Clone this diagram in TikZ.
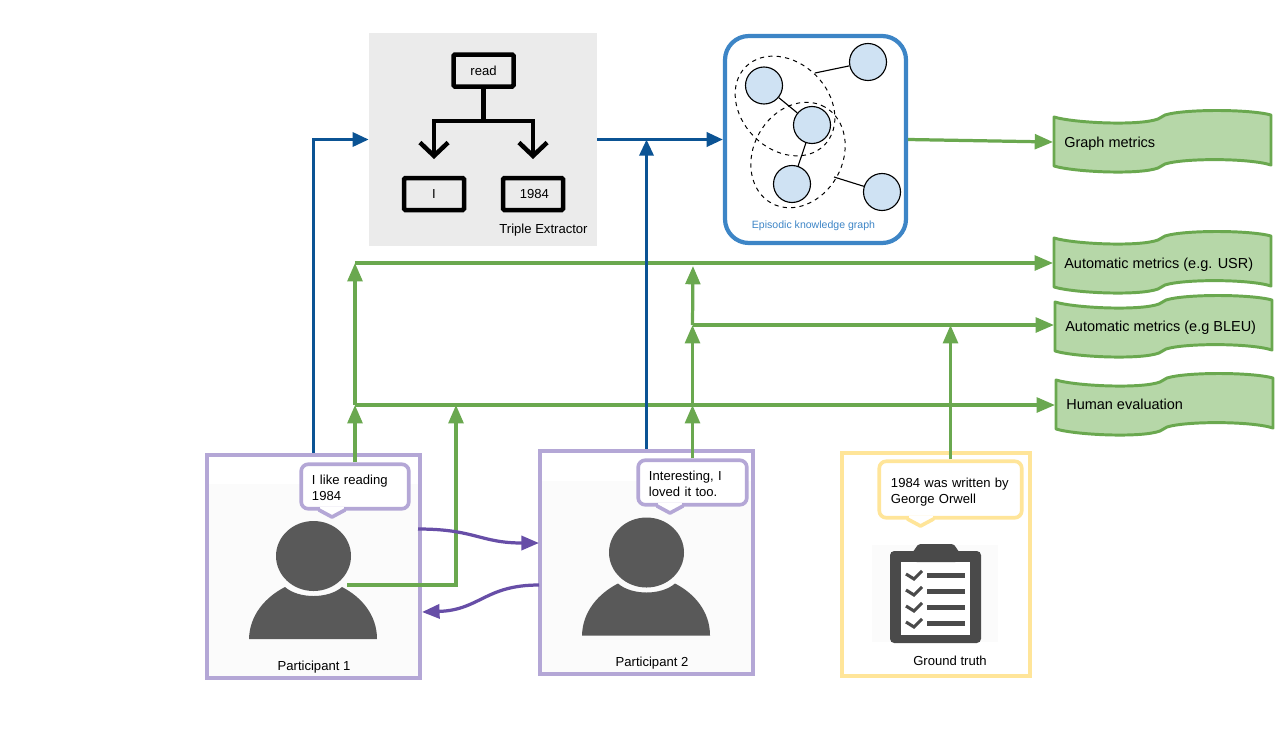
\documentclass[tikz,border=0pt]{standalone}
\usepackage{fontspec}
\setmainfont{Liberation Sans}
\usetikzlibrary{arrows.meta,shapes.geometric}

\definecolor{flowblue}{HTML}{0B5394}
\definecolor{flowgreen}{HTML}{6AA84F}
\definecolor{metricfill}{HTML}{B6D7A8}
\definecolor{talkpurple}{HTML}{674EA7}
\definecolor{partline}{HTML}{B4A7D6}
\definecolor{truthline}{HTML}{FFE599}
\definecolor{graphline}{HTML}{3D85C6}
\definecolor{graphfill}{HTML}{CFE2F3}
\definecolor{iconfill}{HTML}{595959}
\definecolor{boardfill}{HTML}{4A4A4A}
\newcommand{\pxu}{0.025cm}

\tikzset{
  every node/.style={font=\fontsize{9.3pt}{11.4pt}\selectfont},
  partbox/.style={draw=partline,line width=3pt,minimum width=213*\pxu,minimum height=223*\pxu,inner sep=0pt},
  truthbox/.style={draw=truthline,line width=3pt,minimum width=188*\pxu,minimum height=223*\pxu,inner sep=0pt},
  bubble/.style={rectangle,fill=white,line width=2.6pt,rounded corners=5pt,align=left,inner xsep=0.27cm,inner ysep=0pt},
  treebox/.style={draw=black,line width=3.2pt,rounded corners=1pt,minimum width=60*\pxu,minimum height=32*\pxu,inner sep=0pt},
  treeline/.style={line width=3.2pt,line cap=round,-{Straight Barb[length=9.5pt,width=20pt]}},
  gnode/.style={circle,draw=black,fill=graphfill,line width=0.8pt,minimum size=37*\pxu,inner sep=0pt},
  gset/.style={ellipse,draw=black,dashed,line width=0.7pt,inner sep=0pt},
  metrictext/.style={anchor=base west,inner xsep=0pt,font=\fontsize{10.3pt}{12pt}\selectfont},
  boxlabel/.style={anchor=base},
  blueflow/.style={draw=flowblue,line width=2.3pt,-{Triangle[length=11.5pt,width=10pt]}},
  greenflow/.style={draw=flowgreen,line width=2.3pt,-{Triangle[length=13pt,width=10.5pt]}},
  talkflow/.style={draw=talkpurple,line width=2.3pt,-{Triangle[length=12.5pt,width=10pt]}},
  person/.pic={
    \fill[iconfill] (0,0) ellipse (37.5 and 35);
    \fill[iconfill] (-64.5,83) .. controls (-64,59) and (-48,41) .. (-28.5,31) .. controls (-15,43) and (15,43) .. (28.5,31) .. controls (48,41) and (63.5,59) .. (63.5,83) -- cycle;
    \coordinate (-body) at (33.5,29);
  },
  bubbletail/.pic={
    \fill[white] (-12,-3) rectangle (12,0);
    \fill[white] (-13,0) -- (0,7) -- (13,0) -- cycle;
    \draw[line width=2.6pt,line join=round,line cap=round] (-13,0) -- (0,7) -- (13,0);
  },
  metric/.pic={
    \draw[draw=flowgreen,fill=metricfill,line width=2.1pt,line join=round] (0,0) .. controls (20,6) and (85,9) .. (104,2) -- (111,-2) .. controls (130,-8) and (195,-8) .. (217,-2) -- (217,48) .. controls (195,41) and (130,41) .. (111,47) -- (104,51) .. controls (85,58) and (20,55) .. (0,49) -- cycle;
    \coordinate (-in) at (-1,25);
  }
}

\begin{document}
\begin{tikzpicture}[x=\pxu,y=-\pxu]
\useasboundingbox (0,0) rectangle (1280,745);

\node[fill=black!8,minimum width=228*\pxu,minimum height=213*\pxu,inner sep=0pt] (triple) at (483,139.5) {};
\node[treebox] (read) at (483.5,70.5) {read};
\node[treebox] (subj) at (434,194) {I};
\node[treebox] (obj) at (533,194) {\hspace{2pt}1984};
\node[boxlabel] (triplelabel) at (543.5,233) {Triple Extractor};
\coordinate (fork) at (483.5,121);
\coordinate (subjhead) at (434,159);
\coordinate (objhead) at (533,159);
\draw[line width=3.2pt] (read.south) -- (fork);
\draw[treeline] (fork) -| (subjhead);
\draw[treeline] (fork) -| (objhead);

\node[draw=graphline,line width=3pt,rounded corners=17pt,minimum width=181*\pxu,minimum height=207*\pxu,inner sep=0pt] (graph) at (815.5,139.5) {};
\node[gset,minimum width=111*\pxu,minimum height=87*\pxu,rotate=-45] (set1) at (785,106) {};
\node[gset,minimum width=110*\pxu,minimum height=89*\pxu,rotate=61] (set2) at (798,155) {};
\node[gnode] (g1) at (764,85.5) {};
\node[gnode] (g2) at (868,62) {};
\node[gnode] (g3) at (812,125) {};
\node[gnode] (g4) at (792,184) {};
\node[gnode] (g5) at (882,192) {};
\coordinate (set1edge) at (815,73);
\coordinate (set2edge) at (834,177);
\draw[line width=0.8pt] (g1) -- (g3);
\draw[line width=0.8pt] (g3) -- (g4);
\draw[line width=0.8pt] (g2) -- (set1edge);
\draw[line width=0.8pt] (g5) -- (set2edge);
\node[text=graphline,font=\fontsize{7.5pt}{9pt}\selectfont] (graphlabel) at (813.5,226) {Episodic knowledge graph};

\pic (m1) at (1054,117) {metric};
\pic (m2) at (1054,238) {metric};
\pic (m3) at (1055,302) {metric};
\pic (m4) at (1056,380) {metric};
\node[metrictext] (m1text) at (1064,147) {Graph metrics};
\node[metrictext] (m2text) at (1064,268) {Automatic metrics (e.g. USR)};
\node[metrictext] (m3text) at (1065,331) {Automatic metrics (e.g BLEU)};
\node[metrictext] (m4text) at (1066,409) {Human evaluation};

\fill[black!1.5] (206,484) rectangle (421,679);
\fill[black!1.5] (539,481) rectangle (754,675);
\node[partbox] (part1) at (313.5,566.5) {};
\node[partbox] (part2) at (646.5,562.5) {};
\node[truthbox] (truth) at (936,564.5) {};
\pic (person1) at (313.5,556) {person};
\pic (person2) at (646.5,552.5) {person};
\node[boxlabel] (part1label) at (314,670.5) {Participant 1};
\node[boxlabel] (part2label) at (652,666.5) {Participant 2};
\node[boxlabel] (truthlabel) at (950,665) {Ground truth};

\fill[black!1.5] (872,545) rectangle (998,642);
\fill[boardfill,rounded corners=3pt] (890,551) rectangle (981,643);
\fill[boardfill,rounded corners=4pt] (906,552) .. controls (915,552) and (916,544) .. (926,544) -- (946,544) .. controls (956,544) and (957,552) .. (966,552) -- (960,562) -- (912,562) -- cycle;
\fill[white] (901,562) rectangle (970,635);
\fill[boardfill,rounded corners=4pt] (911,556) rectangle (961,562);
\foreach \rowy in {575,591,607,623} {
  \fill[boardfill] (927,\rowy-2.5) rectangle (965,\rowy+2.5);
  \draw[boardfill,line width=2.2pt] (906,\rowy-1) -- (914,\rowy+4) -- (922,\rowy-4);
}

\node[bubble,draw=partline,text width=2.15cm,minimum width=107.5*\pxu,minimum height=44.5*\pxu] (say1) at (355,486.5) {\rule{0pt}{9pt}I like reading\\1984};
\node[bubble,draw=partline,text width=2.175cm,minimum width=108.5*\pxu,minimum height=44.5*\pxu] (say2) at (692.5,482.5) {\rule{0pt}{9pt}Interesting, I\\loved it too.};
\node[bubble,draw=truthline,text width=2.975cm,minimum width=142.5*\pxu,minimum height=56.5*\pxu] (say3) at (950.5,489.5) {\rule{0pt}{11pt}1984 was written by\\George Orwell};
\pic[color=partline] (tail1) at (332,510) {bubbletail};
\pic[color=partline] (tail2) at (670,506) {bubbletail};
\pic[color=truthline] (tail3) at (920.5,519) {bubbletail};

\coordinate (evalfork) at (355,405);
\coordinate (usrfork) at (355,263);
\coordinate (replyeval) at (692.5,405);
\coordinate (bleufork) at (692.5,325);
\coordinate (replyusr) at (693,266);
\coordinate (selfeval) at (456,405);
\draw[greenflow] (graph.east) -- (m1-in);
\draw[greenflow] (say1.north) -- (evalfork);
\draw[greenflow] (evalfork) -- (usrfork);
\draw[greenflow] (usrfork) -- (usrfork -| m2-in);
\draw[greenflow] (evalfork) -- (evalfork -| m4-in);
\draw[greenflow] (person1-body) -| (selfeval);
\draw[greenflow] (say2.north) -- (replyeval);
\draw[greenflow] (replyeval) -- (bleufork);
\draw[greenflow] (bleufork) -- (replyusr);
\draw[greenflow] (bleufork) -- (bleufork -| m3-in);
\draw[greenflow] (say3.north) -- (say3.north |- bleufork);

\draw[blueflow] (part1.north) |- (triple.west);
\draw[blueflow] (triple.east) -- (graph.west);
\draw[blueflow] (part2.north) -- (part2.north |- triple.east);

\coordinate (p1out) at (418,529);
\coordinate (p2in) at (539,543);
\coordinate (p2out) at (539,585);
\coordinate (p1in) at (422,612);
\draw[talkflow] (p1out) .. controls (475,529) and (480,543) .. (p2in);
\draw[talkflow] (p2out) .. controls (485,585) and (480,610) .. (p1in);
\end{tikzpicture}
\end{document}
